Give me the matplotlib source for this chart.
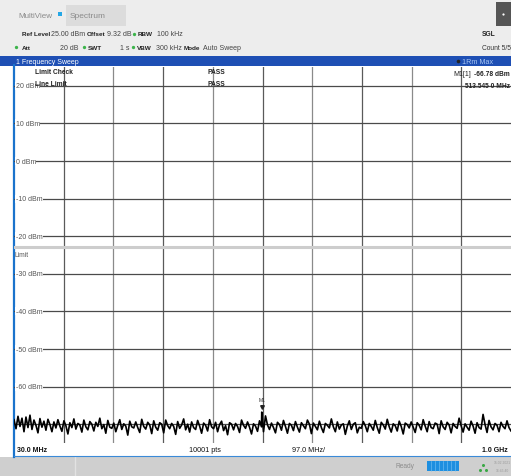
import numpy as np
import matplotlib.pyplot as plt
from matplotlib.patches import Rectangle

plt.rcParams['font.family'] = ['Liberation Sans', 'DejaVu Sans']

# sweep settings
f_start = 30.0      # MHz
f_stop = 1000.0     # MHz
ref_level = 25.0    # dBm
y_bottom = -75.0    # dBm
level_ticks = [20, 10, 0, -10, -20, -30, -40, -50, -60]
limit_level = -23.0

# marker M1
marker_freq = 513.545
marker_level = -66.78

# max-hold trace, dBm (coarse readout across the span)
trace = [
    -68.8, -71.2, -67.9, -70.6, -68.4, -72.0, -68.1, -70.9, -67.6, -71.4,
    -68.9, -70.3, -72.3, -68.5, -70.8, -69.2, -71.6, -68.7, -70.1, -72.0,
    -69.4, -71.0, -68.8, -70.5, -71.9, -69.1, -70.4, -72.6, -69.6, -70.9,
    -68.6, -71.3, -69.8, -70.2, -72.1, -68.9, -70.7, -71.5, -69.3, -70.0,
    -71.8, -69.5, -70.6, -68.4, -71.2, -70.1, -72.4, -69.0, -70.8, -71.1,
    -69.7, -72.0, -70.3, -68.8, -71.4, -69.9, -70.5, -72.9, -69.2, -70.7,
    -71.0, -69.4, -70.9, -72.2, -68.7, -70.6, -71.3, -69.5, -70.2, -72.5,
    -69.1, -70.8, -71.6, -69.6, -70.0, -72.3, -68.9, -70.4, -71.2, -69.8,
    -70.6, -72.7, -69.3, -71.1, -70.2, -68.6, -71.5, -70.0, -72.1, -69.4,
    -70.9, -71.4, -69.0, -70.5, -72.4, -69.7, -70.3, -71.8, -68.8, -70.7,
    -71.2, -69.5, -72.0, -70.1, -69.2, -71.7, -70.4, -72.8, -69.6, -70.0,
    -71.5, -69.8, -70.6, -72.2, -68.9, -70.3, -71.1, -69.4, -70.8, -72.6,
    -69.9, -70.5, -71.9, -69.1, -70.7, -72.0, -67.8, -70.2, -71.4, -69.7,
    -70.9, -72.3, -69.5, -70.1, -71.6, -69.0, -70.6, -72.4, -69.8, -70.3,
    -71.7, -69.3, -70.8, -72.1, -69.6, -70.4, -71.2, -68.9, -70.0, -72.5,
    -69.7, -70.6, -71.5, -69.2, -70.9, -72.2, -69.8, -70.3, -71.0, -68.6,
    -70.7, -72.0, -69.4, -71.3, -70.2, -69.9, -72.7, -70.5, -69.1, -71.4,
    -70.0, -69.6, -72.3, -70.8, -71.1, -69.3, -70.4, -72.0, -69.8, -70.6,
    -71.6, -69.0, -70.9, -72.4, -69.5, -70.2, -71.3, -68.7, -70.7, -72.1,
    -69.9, -70.4, -71.8, -69.2, -70.6, -72.6, -69.7, -70.1, -71.0, -69.4,
    -70.8, -72.2, -69.6, -70.3, -71.5, -68.8, -70.5, -72.0, -69.3, -70.9,
    -71.2, -69.7, -70.0, -72.5, -69.1, -70.7, -71.4, -69.5, -70.2, -72.3,
    -69.8, -70.6, -71.1, -68.4, -70.4, -72.1, -69.9, -70.8, -71.6, -69.2,
    -70.5, -72.4, -69.6, -70.9, -71.3, -67.4, -70.1, -72.2, -69.0, -70.7,
    -71.5, -69.8, -70.3, -72.0, -69.5, -70.6, -71.2, -69.1, -70.9, -71.8,
]

W, H = 511, 477
fig = plt.figure(figsize=(W / 100, H / 100), dpi=100)

def pixel_axes(z):
    a = fig.add_axes([0, 0, 1, 1], zorder=z)
    a.set_xlim(0, W)
    a.set_ylim(H, 0)
    a.axis('off')
    a.patch.set_alpha(0)
    return a

# window chrome underneath, readouts on top of the diagram
ui = pixel_axes(0)
top = pixel_axes(2)

def box(x, y, w, h, color, z=0):
    ui.add_patch(Rectangle((x, y), w, h, color=color, lw=0, zorder=z))

def txt(x, y, s, bold=False, color='#222222', size=5.0, ha='left', layer=None):
    (layer or ui).text(x, y, s, fontsize=size, color=color, ha=ha, va='center',
                       fontweight='bold' if bold else 'normal', zorder=5)

def dot(x, y, color='#3cb44b', ms=2.4):
    ui.plot([x], [y], 'o', ms=ms, color=color, mec='none', zorder=5)

box(0, 0, W, 57, '#ededed')
box(66, 6, 60, 21, '#dcdcdc', 1)
txt(18, 16, 'MultiView', color='#8a8a8a', size=5.8)
box(58, 13, 3.5, 3.5, '#25a7e6', 2)
txt(70, 16, 'Spectrum', color='#8a8a8a', size=6.0)
box(496, 3, 15, 24, '#555555', 1)
dot(503, 15, 'white', 1.6)

# settings lines
txt(22, 35, 'Ref Level', bold=True, size=4.6)
txt(51, 35, '25.00 dBm', color='#444444')
txt(87, 35, 'Offset', bold=True, size=4.6)
txt(107, 35, '9.32 dB', color='#444444')
dot(134, 35)
txt(138, 35, 'RBW', bold=True, size=4.6)
txt(157, 35, '100 kHz', color='#444444')

dot(16, 48)
txt(22, 48, 'Att', bold=True, size=4.6)
txt(60, 48, '20 dB', color='#444444')
dot(84, 48)
txt(88, 48, 'SWT', bold=True, size=4.6)
txt(120, 48, '1 s', color='#444444')
dot(133, 48)
txt(137, 48, 'VBW', bold=True, size=4.6)
txt(156, 48, '300 kHz', color='#444444')
txt(184, 48, 'Mode', bold=True, size=4.6)
txt(203, 48, 'Auto Sweep', color='#444444')

txt(482, 35, 'SGL', bold=True, size=4.8)
txt(482, 48, 'Count 5/5', color='#333333', size=4.8)

# window title bar
box(0, 57, W, 10, '#1e4fb4', 1)
txt(16, 62, '1 Frequency Sweep', color='white', size=5.0)
dot(458, 62, '#222222', 2.6)
txt(462, 62, '1Rm Max', color='#a9c6f2', size=5.2)

# sweep area background and frequency label row
box(14, 67, W - 14, 391, 'white', 0)
ui.plot([14, 14], [66, 458], color='#1a73cc', lw=1.6, zorder=6)
ui.plot([14, W], [457, 457], color='#3a8ad8', lw=0.8, zorder=6)
txt(17, 451, '30.0 MHz', bold=True, color='#111111', size=5.0)
txt(205, 451, '10001 pts', color='#111111', ha='center', size=5.2)
txt(308, 451, '97.0 MHz/', color='#111111', ha='center', size=5.2)
txt(508, 451, '1.0 GHz', bold=True, color='#111111', ha='right', size=5.0)

# status bar
box(0, 458, W, 19, '#cfcfcf', 0)
ui.plot([75, 75], [458, 477], color='#e2e2e2', lw=1, zorder=1)
txt(395, 467, 'Ready', color='#8c8c8c', size=4.8)
box(427, 462, 32, 10, '#1e8fe0', 2)
for k in range(1, 8):
    ui.plot([427 + 4 * k] * 2, [462, 472], color='#7cc4f5', lw=0.4, zorder=3)
ui.plot([480, 483, 486], [471, 466, 471], 'o', ms=2.2, color='#3aa845',
        mec='none', zorder=3)
txt(502, 463, '15.02.2021', color='#9a9a9a', size=2.4, ha='center')
txt(502, 471, '16:45:40', color='#9a9a9a', size=2.4, ha='center')

# measurement diagram
ax = fig.add_axes([14 / W, 1 - 444 / H, (W - 14) / W, 376 / H], zorder=1)
ax.set_xlim(f_start, f_stop)
ax.set_ylim(y_bottom, ref_level)
ax.patch.set_alpha(0)
for s in ax.spines.values():
    s.set_visible(False)
ax.set_xticks([])
ax.set_yticks([])

div = (f_stop - f_start) / 10
for i in range(1, 10):
    shade = '#5a5a5a' if i % 2 else '#8a8a8a'
    ax.axvline(f_start + i * div, color=shade, lw=0.9, zorder=1)
for lv in level_ticks + [-70]:
    ax.axhline(lv, color='#4a4a4a', lw=0.9, zorder=1)
ax.axhline(limit_level, color='#cdcdcd', lw=2.2, zorder=1)

for lv in level_ticks:
    ax.text(f_start + 3, lv, f'{lv} dBm', fontsize=5.0, color='#555555',
            va='center', ha='left', zorder=4,
            bbox=dict(facecolor='white', edgecolor='none', pad=0.3))
ax.text(f_start + 1, limit_level - 1.9, 'Limit', fontsize=4.8, color='#555555',
        va='center', ha='left', zorder=4)

freqs = np.linspace(f_start, f_stop, len(trace))
pos = np.searchsorted(freqs, marker_freq)
freqs = np.insert(freqs, pos, marker_freq)
levels = np.insert(np.array(trace), pos, marker_level)
ax.plot(freqs, levels, color='black', lw=1.2, zorder=3)

ax.plot([marker_freq], [marker_level + 1.3], marker='v', ms=2.6,
        color='#222222', zorder=5)
ax.text(marker_freq, marker_level + 3.3, 'M1', fontsize=3.6, color='#333333',
        ha='center', va='center', zorder=5)

# limit check and marker readout
txt(35, 73, 'Limit Check', bold=True, size=4.8, layer=top)
txt(35, 84, 'Line Limit', bold=True, size=4.8, layer=top)
txt(208, 73, 'PASS', bold=True, size=4.8, layer=top)
txt(208, 84, 'PASS', bold=True, size=4.8, layer=top)
txt(453, 74, 'M1[1]', color='#222222', size=5.0, layer=top)
txt(510, 74, f'{marker_level:.2f} dBm', bold=True, ha='right', size=4.8,
    layer=top)
txt(510, 86, f'{marker_freq:.3f} 0 MHz', bold=True, ha='right', size=4.8,
    layer=top)

fig.savefig('out.png', dpi=100)
